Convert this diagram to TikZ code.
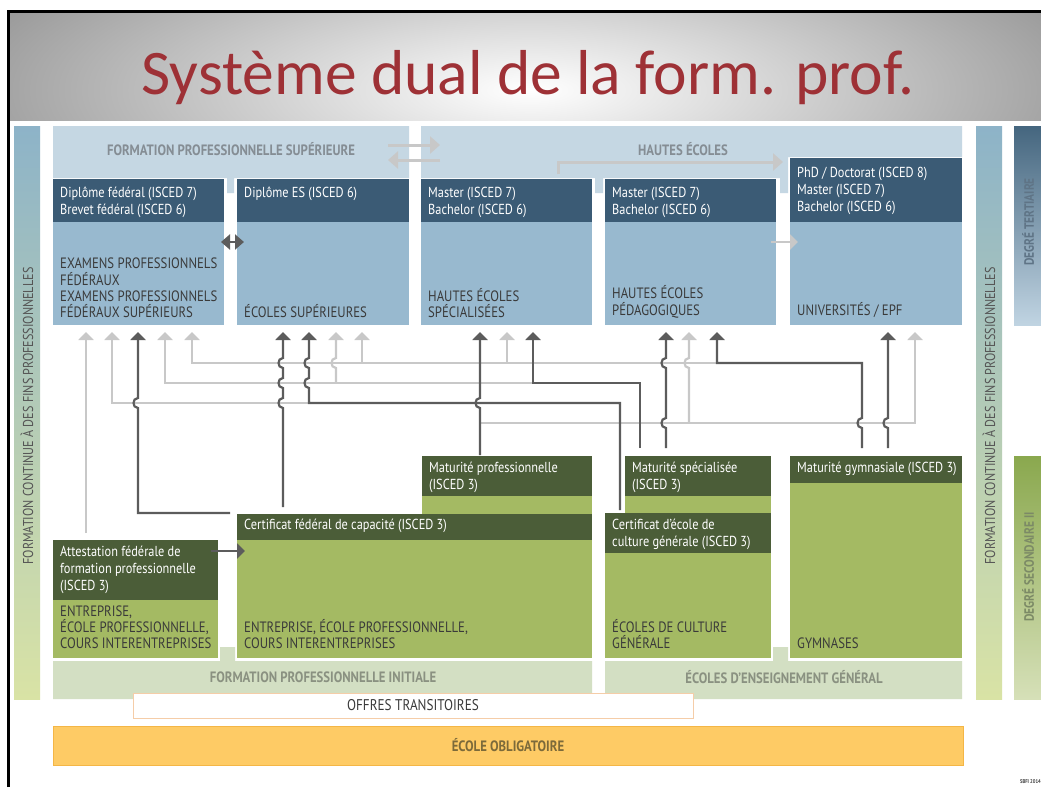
\documentclass[tikz,border=0pt]{standalone}
\usepackage{fontspec}
\setmainfont{PT Sans}[FakeStretch=0.85]
\newfontfamily\titlefont{Carlito}
\usetikzlibrary{arrows.meta}
\definecolor{hdrblue}{HTML}{3B5B75}
\definecolor{bodyblue}{HTML}{98B9CF}
\definecolor{bandblue}{HTML}{C5D7E3}
\definecolor{hdrgreen}{HTML}{4B5D38}
\definecolor{bodygreen}{HTML}{A4BA63}
\definecolor{bandgreen}{HTML}{D3DFC3}
\definecolor{sidetop}{HTML}{8DB3C8}
\definecolor{sidebot}{HTML}{D9E3A5}
\definecolor{tertop}{HTML}{45667F}
\definecolor{termid}{HTML}{93B2C7}
\definecolor{terbot}{HTML}{C0D4E2}
\definecolor{sectop}{HTML}{8AA84E}
\definecolor{secbot}{HTML}{D6E0B8}
\definecolor{orangefill}{HTML}{FECB65}
\definecolor{orangeline}{HTML}{F4B646}
\definecolor{offresline}{HTML}{F5CDA8}
\definecolor{bodytext}{HTML}{3A3A3A}
\definecolor{bandtext}{HTML}{858D94}
\definecolor{bandtextg}{HTML}{8A9181}
\definecolor{oblitext}{HTML}{7C6A3A}
\definecolor{titlered}{HTML}{9E3136}
\definecolor{darkline}{HTML}{5C5C5C}
\definecolor{lightline}{HTML}{C8C8C8}
\definecolor{sidetext}{HTML}{555555}
\definecolor{tertext}{HTML}{5F7486}
\definecolor{sectext}{HTML}{7C8A66}
\begin{document}
\begin{tikzpicture}[x=1pt,y=-1pt,
  bx/.style={inner sep=0pt,outer sep=0pt,anchor=north west,draw=none},
  htext/.style={anchor=north west,inner sep=0pt,align=left,text=white,font=\fontsize{14.5}{17}\selectfont},
  btext/.style={anchor=south west,inner sep=0pt,align=left,text=bodytext,font=\fontsize{15}{16.3}\selectfont},
  bandlabel/.style={inner sep=0pt,font=\bfseries\fontsize{15}{16}\selectfont},
  sidelabel/.style={inner sep=0pt,rotate=90,font=\fontsize{14.3}{16}\selectfont,text=sidetext},
  deglabel/.style={inner sep=0pt,rotate=90,font=\bfseries\fontsize{13.5}{14}\selectfont},
  dk/.style={draw=darkline,line width=2.2pt},
  lt/.style={draw=lightline,line width=2.2pt},
  arrowtip/.style={-{Triangle[width=15pt,length=8pt]}},
  bigarrow/.style={draw=lightline,line width=3pt,-{Triangle[width=17pt,length=10pt]}},
]
\useasboundingbox (0,0) rectangle (1041,787);
\fill[white] (0,0) rectangle (1041,787);
% title area
\begin{scope}
\clip (8,11) rectangle (1041,120);
\shade[inner color=white,outer color=black!40] (-60,-90) rectangle (1120,270);
\end{scope}
\draw[line width=3pt] (8,787) -- (8,11) -- (1041,11);
\node[font=\titlefont\fontsize{63.5}{70}\selectfont,text=titlered,anchor=base,inner sep=0pt] (title) at (528,94) {Système dual de la form. prof.};

% side bars
\shade[top color=sidetop,bottom color=sidebot] (14,126) rectangle (40,699);
\shade[top color=sidetop,bottom color=sidebot] (976,126) rectangle (1002,699);
\shade[top color=tertop,middle color=termid,bottom color=terbot] (1014,126) rectangle (1041,325);
\shade[top color=sectop,bottom color=secbot] (1014,456) rectangle (1041,699);
\node[sidelabel] (fcl) at (27,416) {FORMATION CONTINUE À DES FINS PROFESSIONNELLES};
\node[sidelabel] (fcr) at (989,416) {FORMATION CONTINUE À DES FINS PROFESSIONNELLES};
\node[deglabel,text=tertext] (dter) at (1028,222) {DEGRÉ TERTIAIRE};
\node[deglabel,text=sectext] (dsec) at (1028,567) {DEGRÉ SECONDAIRE II};

% top bands
\fill[bandblue] (53,126) -- (409,126) -- (409,178) -- (234,178) -- (234,193) -- (227,193) -- (227,178) -- (53,178) -- cycle;
\fill[bandblue] (421,126) -- (962,126) -- (962,157) -- (788,157) -- (788,193) -- (780,193) -- (780,178) -- (603,178) -- (603,193) -- (595,193) -- (595,178) -- (421,178) -- cycle;
\node[bandlabel,text=bandtext] (fps) at (231,149) {FORMATION PROFESSIONNELLE SUPÉRIEURE};
\node[bandlabel,text=bandtext] (hes) at (683,149) {HAUTES ÉCOLES};

% tertiary boxes
\node[bx,fill=hdrblue,minimum width=171,minimum height=43] (Ah) at (53,179) {};
\node[bx,fill=bodyblue,minimum width=171,minimum height=103] (Ab) at (53,222) {};
\node[bx,fill=hdrblue,minimum width=172,minimum height=43] (Bh) at (237,179) {};
\node[bx,fill=bodyblue,minimum width=172,minimum height=103] (Bb) at (237,222) {};
\node[bx,fill=hdrblue,minimum width=171,minimum height=43] (Ch) at (421,179) {};
\node[bx,fill=bodyblue,minimum width=171,minimum height=103] (Cb) at (421,222) {};
\node[bx,fill=hdrblue,minimum width=171,minimum height=43] (Dh) at (605,179) {};
\node[bx,fill=bodyblue,minimum width=171,minimum height=103] (Db) at (605,222) {};
\node[bx,fill=hdrblue,minimum width=172,minimum height=64] (Eh) at (790,158) {};
\node[bx,fill=bodyblue,minimum width=172,minimum height=103] (Eb) at (790,222) {};

\node[htext] (Aht) at (60,187) {Diplôme fédéral (ISCED 7)\\Brevet fédéral (ISCED 6)};
\node[htext] (Bht) at (244,187) {Diplôme ES (ISCED 6)};
\node[htext] (Cht) at (428,187) {Master (ISCED 7)\\Bachelor (ISCED 6)};
\node[htext] (Dht) at (612,187) {Master (ISCED 7)\\Bachelor (ISCED 6)};
\node[htext] (Eht) at (797,167) {PhD / Doctorat (ISCED 8)\\Master (ISCED 7)\\Bachelor (ISCED 6)};
\node[btext] (Abt) at (60,318) {EXAMENS PROFESSIONNELS\\FÉDÉRAUX\\EXAMENS PROFESSIONNELS\\FÉDÉRAUX SUPÉRIEURS};
\node[btext] (Bbt) at (244,318) {ÉCOLES SUPÉRIEURES};
\node[btext] (Cbt) at (428,318) {HAUTES ÉCOLES\\SPÉCIALISÉES};
\node[btext] (Dbt) at (612,318) {HAUTES ÉCOLES\\PÉDAGOGIQUES};
\node[btext] (Ebt) at (797,318) {UNIVERSITÉS / EPF};

% bottom bands
\fill[bandgreen] (53,661) -- (220,661) -- (220,647) -- (235,647) -- (235,661) -- (592,661) -- (592,699) -- (53,699) -- cycle;
\fill[bandgreen] (605,661) -- (773,661) -- (773,647) -- (788,647) -- (788,661) -- (962,661) -- (962,699) -- (605,699) -- cycle;
\node[bandlabel,text=bandtextg] (fpi) at (323,677) {FORMATION PROFESSIONNELLE INITIALE};
\node[bandlabel,text=bandtextg] (eeg) at (784,677) {ÉCOLES D’ENSEIGNEMENT GÉNÉRAL};

% secondary boxes
\node[bx,fill=hdrgreen,minimum width=170,minimum height=40] (MPh) at (422,456) {};
\node[bx,fill=bodygreen,minimum width=170,minimum height=18] (MPb) at (422,496) {};
\node[bx,fill=hdrgreen,minimum width=146,minimum height=40] (MSh) at (625,456) {};
\node[bx,fill=bodygreen,minimum width=146,minimum height=17] (MSb) at (625,496) {};
\node[bx,fill=hdrgreen,minimum width=172,minimum height=27] (MGh) at (790,456) {};
\node[bx,fill=bodygreen,minimum width=172,minimum height=175] (MGb) at (790,483) {};
\node[bx,fill=hdrgreen,minimum width=355,minimum height=26] (CFCh) at (237,514) {};
\node[bx,fill=bodygreen,minimum width=355,minimum height=118] (CFCb) at (237,540) {};
\node[bx,fill=hdrgreen,minimum width=166,minimum height=40] (ECGh) at (605,513) {};
\node[bx,fill=bodygreen,minimum width=166,minimum height=105] (ECGb) at (605,553) {};
\node[bx,fill=hdrgreen,minimum width=165,minimum height=60] (ATh) at (53,540) {};
\node[bx,fill=bodygreen,minimum width=165,minimum height=58] (ATb) at (53,600) {};

\node[htext] (MPt) at (429,462) {Maturité professionnelle\\(ISCED 3)};
\node[htext] (MSt) at (632,462) {Maturité spécialisée\\(ISCED 3)};
\node[htext] (MGt) at (797,462) {Maturité gymnasiale (ISCED 3)};
\node[htext] (CFCt) at (244,519) {Certificat fédéral de capacité (ISCED 3)};
\node[htext] (ECGt) at (612,519) {Certificat d’école de\\culture générale (ISCED 3)};
\node[htext] (ATt) at (60,546) {Attestation fédérale de\\formation professionnelle\\(ISCED 3)};
\node[btext] (ATbt) at (60,649) {ENTREPRISE,\\ÉCOLE PROFESSIONNELLE,\\COURS INTERENTREPRISES};
\node[btext] (CFCbt) at (244,649) {ENTREPRISE, ÉCOLE PROFESSIONNELLE,\\COURS INTERENTREPRISES};
\node[btext] (ECGbt) at (612,649) {ÉCOLES DE CULTURE\\GÉNÉRALE};
\node[btext] (MGbt) at (797,649) {GYMNASES};

% offres transitoires & école obligatoire
\node[bx,fill=white,draw=offresline,line width=0.8pt,minimum width=560,minimum height=25] (offres) at (133,693) {};
\node[inner sep=0pt,font=\fontsize{15.5}{16}\selectfont,text=bodytext] (offrest) at (offres.center) {OFFRES TRANSITOIRES};
\node[bx,fill=orangefill,draw=orangeline,line width=1pt,minimum width=910,minimum height=39] (oblig) at (53,726) {};
\node[bandlabel,text=oblitext] (obligt) at (oblig.center) {ÉCOLE OBLIGATOIRE};
\node[anchor=base east,inner sep=0pt,font=\bfseries\fontsize{5.5}{6}\selectfont,text=black!75] (sbfi) at (1041,783) {SBFI 2014};

% top arrows
\draw[bigarrow] (388,145) -- (440,145);
\draw[bigarrow] (440,160) -- (388,160);
\draw[bigarrow] (558,174) -- (558,162) -- (783,162);
\draw[dk,{Triangle[width=15pt,length=9pt]}-{Triangle[width=15pt,length=9pt]}] (221,242) -- (244,242);
\draw[lt,arrowtip] (771,242) -- (798,242);
\draw[dk,arrowtip] (211,551) -- (245,551);

% light connectors
\draw[lt,arrowtip] (86,533) -- (86,332);
\draw[lt,arrowtip] (309,403) -- (112,403) -- (112,332);
\draw[lt,arrowtip] (533,383) -- (165,383) -- (165,332);
\draw[lt,arrowtip] (717,363) -- (192,363) -- (192,332);
\draw[lt,arrowtip] (336,383) -- (336,368) .. controls (330,368) and (330,358) .. (336,358) -- (336,332);
\draw[lt,arrowtip] (362,363) -- (362,332);
\draw[lt,arrowtip] (507,363) -- (507,332);
\draw[lt,arrowtip] (480,423) -- (915,423) -- (915,332);
\draw[lt,arrowtip] (689,423) -- (689,368) .. controls (683,368) and (683,358) .. (689,358) -- (689,332);

% dark connectors
\draw[dk,arrowtip] (230,513) -- (138,513) -- (138,408) .. controls (132,408) and (132,398) .. (138,398) -- (138,332);
\draw[dk,arrowtip] (283,507) -- (283,408) .. controls (277,408) and (277,398) .. (283,398)
   -- (283,388) .. controls (277,388) and (277,378) .. (283,378)
   -- (283,368) .. controls (277,368) and (277,358) .. (283,358) -- (283,332);
\draw[dk,arrowtip] (620,510) -- (620,403) -- (309,403)
   -- (309,388) .. controls (303,388) and (303,378) .. (309,378)
   -- (309,368) .. controls (303,368) and (303,358) .. (309,358) -- (309,332);
\draw[dk,arrowtip] (480,455) -- (480,408) .. controls (474,408) and (474,398) .. (480,398) -- (480,332);
\draw[dk,arrowtip] (640,448) -- (640,383) -- (533,383) -- (533,332);
\draw[dk,arrowtip] (666,448) -- (666,428) .. controls (660,428) and (660,418) .. (666,418)
   -- (666,368) .. controls (660,368) and (660,358) .. (666,358) -- (666,332);
\draw[dk,arrowtip] (862,448) -- (862,428) .. controls (856,428) and (856,418) .. (862,418) -- (862,363) -- (717,363) -- (717,332);
\draw[dk,arrowtip] (888,448) -- (888,428) .. controls (882,428) and (882,418) .. (888,418) -- (888,332);
\end{tikzpicture}
\end{document}
